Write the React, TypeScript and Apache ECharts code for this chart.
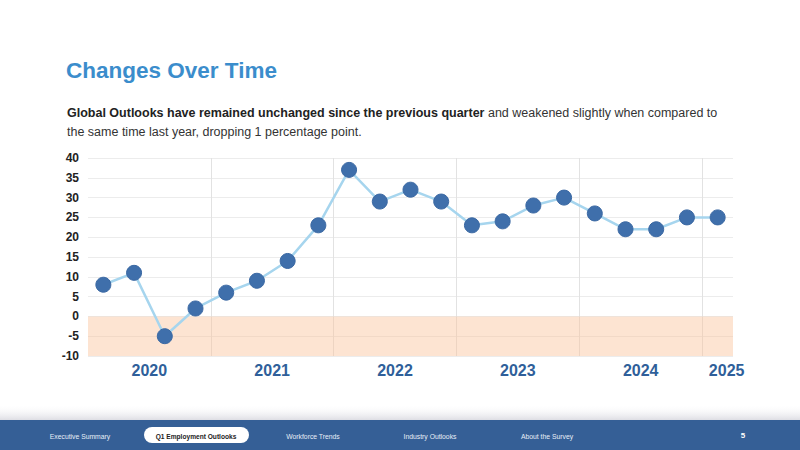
import React, { useEffect, useRef } from "react";
import * as echarts from "echarts";

const categories = [
  "2020 Q1", "2020 Q2", "2020 Q3", "2020 Q4",
  "2021 Q1", "2021 Q2", "2021 Q3", "2021 Q4",
  "2022 Q1", "2022 Q2", "2022 Q3", "2022 Q4",
  "2023 Q1", "2023 Q2", "2023 Q3", "2023 Q4",
  "2024 Q1", "2024 Q2", "2024 Q3", "2024 Q4",
  "2025 Q1",
];
const outlookValues = [8, 11, -5, 2, 6, 9, 14, 23, 37, 29, 32, 29, 23, 24, 28, 30, 26, 22, 22, 25, 25];
const yearLabels: Record<number, string> = { 2: "2020", 6: "2021", 10: "2022", 14: "2023", 18: "2024", 20: "2025" };
const yearBoundaries = [4, 8, 12, 16, 20];
const negativeBand = [0, -10];
const navItems = ["Executive Summary", "Q1 Employment Outlooks", "Workforce Trends", "Industry Outlooks", "About the Survey"];
const navX = [80, 196, 313, 430, 547];
const pageNumber = "5";

export default function App() {
  const ref = useRef<HTMLDivElement>(null);
  useEffect(() => {
    if (!ref.current) return;
    const chart = echarts.init(ref.current, null, { renderer: "svg" });
    const font = "Liberation Sans, Arial, sans-serif";
    const navGraphics: any[] = navItems.map((t, i) => {
      const active = i === 1;
      return {
        type: "text",
        x: navX[i],
        y: 436,
        z: 20,
        style: {
          text: t,
          fill: active ? "#222222" : "#e8eef7",
          font: `${active ? "bold 6.6px" : "6.8px"} ${font}`,
          align: "center",
          verticalAlign: "middle",
        },
      };
    });
    const splitColors = yearBoundaries.map(() => "#e2e2e2").concat(["rgba(0,0,0,0)"]);
    chart.setOption({
      animation: false,
      backgroundColor: "#ffffff",
      title: {
        text: "Changes Over Time",
        left: 61,
        top: 54,
        textStyle: { color: "#3b8dcc", fontSize: 22.5, fontWeight: "bold", fontFamily: font },
      },
      graphic: [
        {
          type: "text",
          x: 67,
          y: 103,
          style: {
            text: "{b|Global Outlooks have remained unchanged since the previous quarter}{n| and weakened slightly when compared to}\n{n|the same time last year, dropping 1 percentage point.}",
            rich: {
              b: { font: `bold 12.5px ${font}`, fill: "#222222", lineHeight: 19 },
              n: { font: `12.5px ${font}`, fill: "#333333", lineHeight: 19 },
            },
          },
        },
        {
          type: "rect",
          shape: { x: 0, y: 404, width: 800, height: 16 },
          style: {
            fill: new echarts.graphic.LinearGradient(0, 0, 0, 1, [
              { offset: 0, color: "rgba(255,255,255,0)" },
              { offset: 1, color: "rgba(200,200,210,0.6)" },
            ]),
          },
          z: 10,
        },
        {
          type: "rect",
          shape: { x: 0, y: 420, width: 800, height: 30 },
          style: { fill: "#355f96" },
          z: 11,
        },
        {
          type: "rect",
          shape: { x: 144, y: 427, width: 105, height: 16, r: 8 },
          style: { fill: "#ffffff" },
          z: 12,
        },
        ...navGraphics,
        {
          type: "text",
          x: 743,
          y: 435,
          z: 20,
          style: { text: pageNumber, fill: "#ffffff", font: `bold 8px ${font}`, align: "center", verticalAlign: "middle" },
        },
      ],
      grid: { left: 88, right: 67, top: 158, bottom: 94 },
      xAxis: {
        type: "category",
        data: categories,
        boundaryGap: true,
        axisLine: { show: false },
        axisTick: { show: false },
        splitLine: {
          show: true,
          interval: (index: number) => yearBoundaries.includes(index),
          lineStyle: { color: splitColors, width: 1 },
        },
        axisLabel: {
          interval: (index: number) => yearLabels[index] !== undefined,
          margin: 6,
          formatter: (_v: string, index: number) => {
            const l = yearLabels[index];
            if (!l) return "";
            return index === 20 ? `{r|${l}}` : `{l|${l}}`;
          },
          rich: {
            l: { color: "#2f5f9a", fontSize: 16, fontWeight: "bold", fontFamily: font, padding: [0, 31, 0, 0] },
            r: { color: "#2f5f9a", fontSize: 16, fontWeight: "bold", fontFamily: font, padding: [0, 0, 0, 18] },
          },
        },
      },
      yAxis: {
        type: "value",
        min: -10,
        max: 40,
        interval: 5,
        axisLine: { show: false },
        axisTick: { show: false },
        axisLabel: { color: "#222222", fontSize: 12, fontWeight: "bold", fontFamily: font, margin: 9 },
        splitLine: { lineStyle: { color: "#ececec", width: 1 } },
      },
      series: [
        {
          type: "line",
          data: outlookValues,
          symbol: "circle",
          symbolSize: 15,
          lineStyle: { color: "#a6d5ee", width: 2.5 },
          itemStyle: { color: "#3f6fab", borderColor: "#3a68a3", borderWidth: 1 },
          z: 5,
          markArea: {
            silent: true,
            itemStyle: { color: "rgba(251,196,155,0.45)" },
            data: [[{ yAxis: negativeBand[0] }, { yAxis: negativeBand[1] }]],
          },
        },
      ],
    });
    return () => chart.dispose();
  }, []);
  return (
    <div
      ref={ref}
      style={{ position: "absolute", left: 0, top: 0, width: 800, height: 450 }}
    />
  );
}
